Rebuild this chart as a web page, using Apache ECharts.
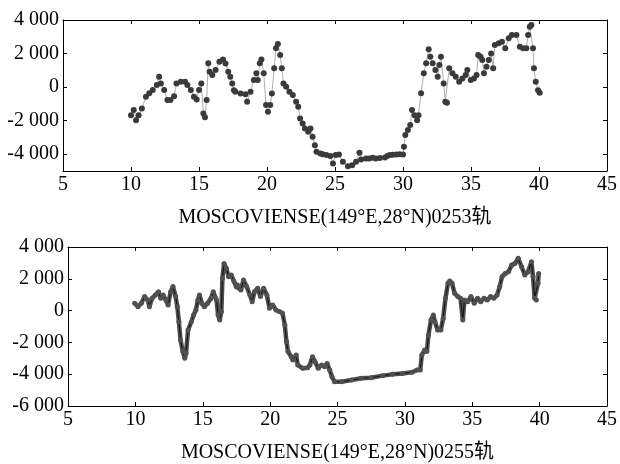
<!DOCTYPE html>
<html>
<head>
<meta charset="utf-8">
<script src="https://cdn.jsdelivr.net/npm/echarts@6/dist/echarts.min.js"></script>
<style>
  html, body { margin: 0; padding: 0; background: #fff; }
  #chart { width: 620px; height: 464px; }
</style>
</head>
<body>
<div id="chart"></div>
<script>
// 0253 orbit (top)
const topX = [10.0, 10.2, 10.37, 10.56, 10.8, 11.1, 11.34, 11.6, 11.9, 12.07, 12.2, 12.44, 12.68, 12.9, 13.17, 13.34, 13.66, 13.98, 14.15, 14.4, 14.63, 14.83, 15.0, 15.17, 15.32, 15.44, 15.56, 15.68, 15.78, 15.98, 16.22, 16.5, 16.76, 16.95, 17.15, 17.3, 17.44, 17.57, 17.68, 18.06, 18.42, 18.54, 18.79, 19.03, 19.22, 19.32, 19.47, 19.59, 19.76, 19.93, 20.07, 20.24, 20.36, 20.53, 20.66, 20.8, 20.97, 21.09, 21.21, 21.41, 21.65, 21.9, 22.14, 22.3, 22.43, 22.62, 22.79, 23.03, 23.2, 23.35, 23.52, 23.64, 23.93, 24.1, 24.37, 24.66, 24.85, 25.05, 25.29, 25.58, 25.95, 26.26, 26.55, 26.8, 26.92, 27.28, 27.5, 27.77, 28.0, 28.3, 28.67, 28.85, 29.03, 29.25, 29.51, 29.75, 30.0, 30.07, 30.17, 30.36, 30.53, 30.66, 30.85, 31.04, 31.14, 31.33, 31.53, 31.7, 31.89, 32.01, 32.18, 32.38, 32.55, 32.67, 32.79, 32.99, 33.11, 33.23, 33.4, 33.64, 33.88, 34.13, 34.37, 34.61, 34.73, 34.98, 35.22, 35.41, 35.53, 35.7, 35.83, 35.95, 36.14, 36.31, 36.48, 36.63, 36.75, 37.04, 37.28, 37.52, 37.77, 38.0, 38.34, 38.59, 38.83, 39.07, 39.2, 39.32, 39.44, 39.56, 39.63, 39.76, 39.93, 40.05];
const topY = [-1670, -1370, -1970, -1670, -1270, -570, -370, -170, 120, 620, 220, -170, -770, -770, -540, 220, 320, 320, 120, -170, -570, -740, -170, 220, -1570, -1800, -770, 1420, 920, 720, 1020, 1510, 1650, 1410, 920, 620, 220, -180, -280, -380, -420, -870, -280, 420, 820, 420, 1420, 1650, 820, -1070, -1470, -1070, -380, 1120, 2310, 2570, 1910, 1120, 220, 20, -280, -470, -870, -1170, -1870, -2170, -2460, -2660, -2460, -2960, -3460, -3850, -3950, -4000, -4050, -4110, -4550, -4050, -4010, -4450, -4710, -4650, -4450, -3910, -4310, -4250, -4250, -4210, -4250, -4230, -4200, -4100, -4050, -4030, -4010, -4000, -4010, -3550, -2860, -2560, -2260, -1370, -1670, -1970, -1670, -370, 820, 1420, 2250, 1810, 1420, 1020, 620, 1320, 1810, 220, -870, -930, 1120, 820, 620, 320, 520, 720, 1020, 420, 520, 720, 1910, 1810, 1620, 820, 1220, 1620, 2010, 1120, 2510, 2610, 2710, 2310, 2910, 3110, 3110, 2410, 2310, 2310, 3110, 3600, 3700, 2310, 1120, 320, -180, -340];

// 0255 orbit (bottom)
const botX = [9.95, 10.19, 10.44, 10.68, 10.92, 11.04, 11.24, 11.48, 11.72, 11.89, 12.06, 12.26, 12.43, 12.62, 12.79, 12.99, 13.11, 13.23, 13.35, 13.52, 13.67, 13.76, 13.91, 14.15, 14.32, 14.49, 14.64, 14.76, 14.93, 15.12, 15.36, 15.61, 15.78, 15.9, 16.02, 16.14, 16.26, 16.38, 16.46, 16.58, 16.75, 16.92, 17.11, 17.31, 17.48, 17.58, 17.83, 18.02, 18.26, 18.5, 18.67, 18.84, 19.08, 19.28, 19.52, 19.76, 19.95, 20.19, 20.43, 20.68, 20.92, 21.09, 21.21, 21.33, 21.57, 21.69, 21.93, 22.05, 22.42, 22.78, 22.95, 23.14, 23.33, 23.57, 23.82, 24.06, 24.23, 24.42, 24.59, 24.78, 25.31, 26.04, 26.76, 27.49, 28.35, 29.08, 29.81, 30.53, 30.9, 31.14, 31.26, 31.46, 31.63, 31.75, 31.94, 32.11, 32.23, 32.43, 32.67, 32.84, 33.01, 33.2, 33.33, 33.5, 33.69, 33.93, 34.13, 34.3, 34.42, 34.66, 34.9, 35.15, 35.39, 35.63, 35.87, 36.12, 36.36, 36.6, 36.84, 37.04, 37.21, 37.45, 37.69, 37.93, 38.17, 38.41, 38.66, 38.9, 39.15, 39.39, 39.51, 39.63, 39.76, 39.88, 39.93];
const botY = [460, 250, 460, 880, 670, 250, 770, 980, 1190, 770, 980, 670, 360, 1190, 1510, 880, 250, -700, -1850, -2580, -3000, -2690, -1220, -700, -280, 40, 670, 980, 460, 250, 460, 770, 1190, 880, 670, -280, -590, -60, 2030, 2970, 2660, 2130, 2240, 1850, 1500, 1610, 1300, 1920, 1510, 980, 560, 1190, 1400, 880, 1400, 980, 150, 360, 40, -60, -170, -900, -1950, -2580, -2900, -3110, -2790, -3420, -3630, -3590, -3420, -2900, -3210, -3630, -3420, -3530, -3320, -3740, -4160, -4470, -4470, -4370, -4260, -4220, -4090, -4010, -3950, -3880, -3740, -3740, -2790, -2480, -2580, -1530, -590, -280, -700, -1220, -1220, -490, 770, 1720, 1860, 1720, 1090, 880, 770, -590, 670, 560, 880, 460, 770, 560, 770, 670, 880, 770, 980, 1510, 2130, 2340, 2450, 2870, 2970, 3290, 2760, 2240, 2450, 3080, 2130, 770, 670, 1720, 2340];

const xTicks = [5, 10, 15, 20, 25, 30, 35, 40, 45];
const topYTicks = [-4000, -2000, 0, 2000, 4000];
const botYTicks = [-6000, -4000, -2000, 0, 2000, 4000];
const topTitle = 'MOSCOVIENSE(149°E,28°N)0253轨';
const botTitle = 'MOSCOVIENSE(149°E,28°N)0255轨';

const font = '"Liberation Serif", "Noto Sans CJK SC", serif';

const pairs = (xs, ys) => xs.map((x, i) => [x, ys[i]]);

const fmt = v => {
    const s = String(v);
    return s.replace(/(\d)(\d{3})$/, '$1 $2');
};

const xAxisFor = (gridIndex, name) => ({
    type: 'value',
    gridIndex,
    min: 5,
    max: 45,
    interval: 5,
    name,
    nameLocation: 'middle',
    nameGap: 37,
    nameTextStyle: { fontFamily: font, fontSize: 20, color: '#000' },
    axisLine: { show: true, onZero: false, lineStyle: { color: '#000', width: 1 } },
    axisTick: { show: true, inside: true, length: 4, lineStyle: { color: '#000' } },
    axisLabel: {
        margin: 4,
        color: '#000',
        fontFamily: font,
        fontSize: 20,
        customValues: xTicks
    },
    splitLine: { show: false }
});

const xTopFor = gridIndex => ({
    type: 'value',
    gridIndex,
    position: 'top',
    min: 5,
    max: 45,
    interval: 5,
    axisLine: { show: true, onZero: false, lineStyle: { color: '#000', width: 1 } },
    axisTick: { show: true, inside: true, length: 4, lineStyle: { color: '#000' } },
    axisLabel: { show: false },
    splitLine: { show: false }
});

const yAxisFor = (gridIndex, min, max, ticks) => ({
    type: 'value',
    gridIndex,
    min,
    max,
    interval: 1000,
    axisLine: { show: true, onZero: false, lineStyle: { color: '#000', width: 1 } },
    axisTick: { show: true, inside: true, length: 4, lineStyle: { color: '#000' }, customValues: ticks },
    axisLabel: {
        margin: 4,
        color: '#000',
        fontFamily: font,
        fontSize: 20,
        customValues: ticks,
        formatter: fmt
    },
    splitLine: { show: false }
});

const yRightFor = (gridIndex, min, max, ticks) => ({
    type: 'value',
    gridIndex,
    position: 'right',
    min,
    max,
    interval: 1000,
    axisLine: { show: true, onZero: false, lineStyle: { color: '#000', width: 1 } },
    axisTick: { show: true, inside: true, length: 4, lineStyle: { color: '#000' }, customValues: ticks },
    axisLabel: { show: false },
    splitLine: { show: false }
});

const chart = echarts.init(document.getElementById('chart'), null, { renderer: 'canvas' });

chart.setOption({
    backgroundColor: '#fff',
    animation: false,
    grid: [
        { left: 63, right: 6, top: 20, height: 151 },
        { left: 68, right: 6, top: 247, height: 159 }
    ],
    xAxis: [
        xAxisFor(0, topTitle),
        xTopFor(0),
        xAxisFor(1, botTitle),
        xTopFor(1)
    ],
    yAxis: [
        yAxisFor(0, -5000, 4000, topYTicks),
        yRightFor(0, -5000, 4000, topYTicks),
        yAxisFor(1, -6000, 4000, botYTicks),
        yRightFor(1, -6000, 4000, botYTicks)
    ],
    series: [
        {
            type: 'line',
            xAxisIndex: 0,
            yAxisIndex: 0,
            data: pairs(topX, topY),
            symbol: 'circle',
            symbolSize: 6,
            itemStyle: { color: '#3a3a3a' },
            lineStyle: { color: '#9a9a9a', width: 0.8 }
        },
        {
            type: 'line',
            xAxisIndex: 2,
            yAxisIndex: 2,
            data: pairs(botX, botY),
            symbol: 'circle',
            symbolSize: 5,
            itemStyle: { color: '#505050' },
            lineStyle: { color: '#505050', width: 4.5 }
        },
        {
            // dark centre line of the lower trace
            type: 'line',
            xAxisIndex: 2,
            yAxisIndex: 2,
            data: pairs(botX, botY),
            symbol: 'none',
            lineStyle: { color: '#111', width: 1 }
        }
    ]
});
</script>
</body>
</html>
